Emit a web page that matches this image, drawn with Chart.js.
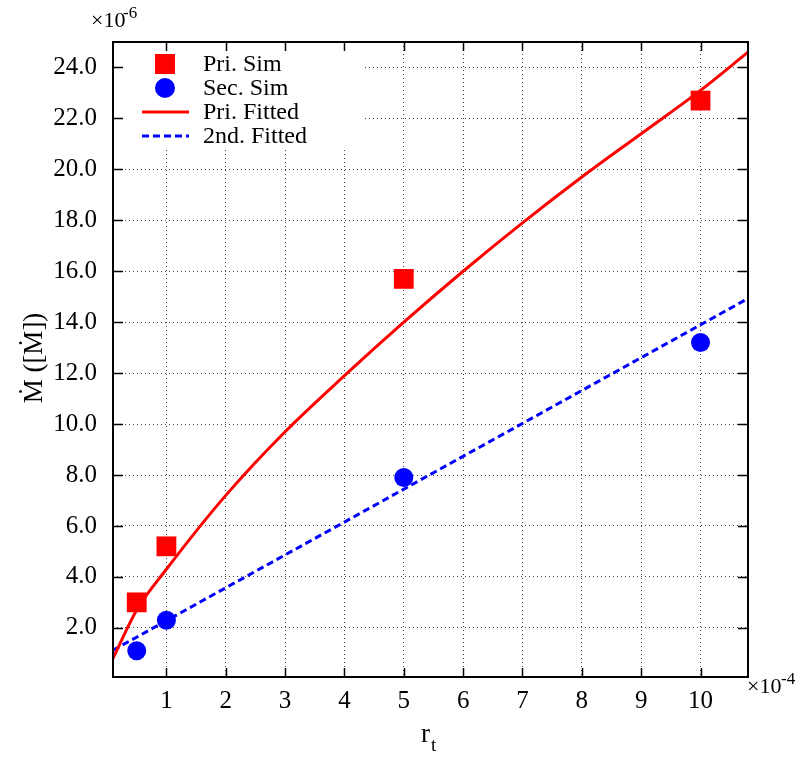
<!DOCTYPE html>
<html>
<head>
<meta charset="utf-8">
<script src="https://cdn.jsdelivr.net/npm/chart.js@4/dist/chart.umd.min.js"></script>
<style>
  body { margin: 0; background: #fff; }
</style>
</head>
<body>
<canvas id="myChart" width="805" height="758"></canvas>
<script>
// values are in units of 1e-4 (x) and 1e-6 (y)
var simX = [0.5, 1, 5, 10];
var priSim = [3.0, 5.2, 15.7, 22.7];
var secSim = [1.1, 2.3, 7.9, 13.2];

var priFitX = [0.1, 0.5, 1, 2, 3, 4, 5, 6, 7, 8, 9, 10, 10.8];
var priFitY = [0.8, 2.7, 4.3, 7.2, 9.7, 11.9, 14.0, 16.0, 17.9, 19.7, 21.4, 23.1, 24.6];

var secFitX = [0.1, 10.8];
var secFitY = [1.12, 14.93];

var xTicks = [1, 2, 3, 4, 5, 6, 7, 8, 9, 10];
var yTicks = [2, 4, 6, 8, 10, 12, 14, 16, 18, 20, 22, 24];

var serif = "'Liberation Serif', 'DejaVu Serif', serif";

function pts(xs, ys) {
  return xs.map(function (x, i) { return { x: x, y: ys[i] }; });
}

var decor = {
  id: "decor",
  afterDraw: function (chart) {
    var c = chart.ctx;
    var a = chart.chartArea;
    var xs = chart.scales.x, ys = chart.scales.y;
    var ds = chart.data.datasets;
    c.save();

    // legend box
    c.fillStyle = "#fff";
    c.fillRect(a.left + 2, a.top + 2, 247, 103);
    c.font = "24px " + serif;
    c.textBaseline = "middle";
    c.textAlign = "left";
    var rows = [64, 88, 112, 136];
    for (var i = 0; i < 4; i++) {
      var y = rows[i];
      var d = ds[i];
      if (i === 0) {
        c.fillStyle = d.backgroundColor;
        c.fillRect(155, y - 10, 20, 20);
      } else if (i === 1) {
        c.fillStyle = d.backgroundColor;
        c.beginPath();
        c.arc(165, y, 10, 0, Math.PI * 2);
        c.fill();
      } else {
        c.strokeStyle = d.borderColor;
        c.lineWidth = 3;
        c.setLineDash(d.borderDash || []);
        c.beginPath();
        c.moveTo(142, y);
        c.lineTo(189, y);
        c.stroke();
        c.setLineDash([]);
      }
      c.fillStyle = "#000";
      c.fillText(d.label, 203, y + 1);
    }

    // inward tick marks on all four sides
    c.strokeStyle = "#000";
    c.lineWidth = 1.5;
    c.beginPath();
    xTicks.forEach(function (v) {
      var px = Math.round(xs.getPixelForValue(v)) + 0.5;
      c.moveTo(px, a.bottom); c.lineTo(px, a.bottom - 9);
      c.moveTo(px, a.top); c.lineTo(px, a.top + 9);
    });
    yTicks.forEach(function (v) {
      var py = Math.round(ys.getPixelForValue(v)) + 0.5;
      c.moveTo(a.left, py); c.lineTo(a.left + 10, py);
      c.moveTo(a.right, py); c.lineTo(a.right - 10, py);
    });
    c.stroke();

    // frame
    c.lineWidth = 2;
    c.strokeRect(a.left, a.top, a.right - a.left, a.bottom - a.top);

    // multipliers
    c.fillStyle = "#000";
    c.textBaseline = "alphabetic";
    c.textAlign = "left";
    c.font = "22px " + serif;
    c.fillText("\u00d710", 91, 27);
    c.font = "17px " + serif;
    c.fillText("-6", 123, 18);
    c.font = "22px " + serif;
    c.fillText("\u00d710", 747, 693);
    c.font = "17px " + serif;
    c.fillText("-4", 781, 684);

    // axis titles
    c.font = "27px " + serif;
    c.fillText("r", 421, 742);
    c.font = "19px " + serif;
    c.fillText("t", 431, 751);

    c.translate(42, 358);
    c.rotate(-Math.PI / 2);
    c.textAlign = "center";
    c.font = "27px " + serif;
    c.fillText("\u1e40 ([\u1e40])", 0, 0);

    c.restore();
  }
};

var ctx = document.getElementById("myChart");

var myChart = new Chart(ctx, {
  type: "scatter",
  data: {
    datasets: [
      {
        label: "Pri. Sim",
        data: pts(simX, priSim),
        backgroundColor: "#ff0000",
        borderColor: "#ff0000",
        pointStyle: "rect",
        pointRadius: 14,
        borderWidth: 0,
        order: 1
      },
      {
        label: "Sec. Sim",
        data: pts(simX, secSim),
        backgroundColor: "#0000ff",
        borderColor: "#0000ff",
        pointStyle: "circle",
        pointRadius: 9.5,
        borderWidth: 0,
        order: 1
      },
      {
        label: "Pri. Fitted",
        data: pts(priFitX, priFitY),
        showLine: true,
        borderColor: "#ff0000",
        backgroundColor: "#ff0000",
        borderWidth: 3,
        pointRadius: 0,
        cubicInterpolationMode: "monotone",
        order: 2
      },
      {
        label: "2nd. Fitted",
        data: pts(secFitX, secFitY),
        showLine: true,
        borderColor: "#0000ff",
        backgroundColor: "#0000ff",
        borderWidth: 3,
        borderDash: [7, 4],
        pointRadius: 0,
        order: 2
      }
    ]
  },
  options: {
    responsive: false,
    animation: false,
    events: [],
    layout: { padding: { top: 42, right: 57, left: 0, bottom: 0 } },
    plugins: {
      legend: { display: false },
      tooltip: { enabled: false }
    },
    scales: {
      x: {
        type: "linear",
        min: 0.1,
        max: 10.8,
        afterBuildTicks: function (s) {
          s.ticks = xTicks.map(function (v) { return { value: v }; });
        },
        afterFit: function (s) { s.height = 81; },
        grid: { color: "#444", lineWidth: 1, drawTicks: false },
        border: { display: false, dash: [1, 3] },
        ticks: {
          color: "#000",
          padding: 9,
          maxRotation: 0,
          font: { family: serif, size: 25 },
          callback: function (v) { return String(v); }
        }
      },
      y: {
        min: 0.07,
        max: 25,
        afterBuildTicks: function (s) {
          s.ticks = yTicks.map(function (v) { return { value: v }; });
        },
        afterFit: function (s) { s.width = 113; },
        grid: { color: "#444", lineWidth: 1, drawTicks: false },
        border: { display: false, dash: [1, 3] },
        ticks: {
          color: "#000",
          padding: 16,
          font: { family: serif, size: 25 },
          callback: function (v) { return v.toFixed(1); }
        }
      }
    }
  },
  plugins: [decor]
});
</script>
</body>
</html>
